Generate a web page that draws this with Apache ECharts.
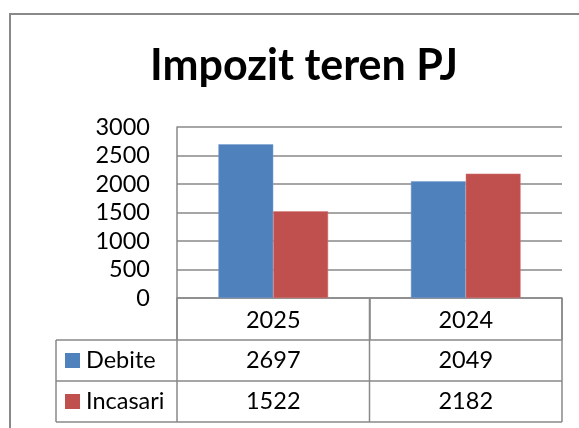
<!DOCTYPE html>
<html>
<head>
<meta charset="utf-8">
<script src="https://cdn.jsdelivr.net/npm/echarts@6/dist/echarts.min.js"></script>
<style>
    html, body { margin: 0; padding: 0; background: #fff; }
    #main { width: 579px; height: 428px; }
</style>
</head>
<body>
<div id="main"></div>
<script>
// date din grafic
var categories = ['2025', '2024'];
var seriesNames = ['Debite', 'Incasari'];
var debite = [2697, 2049];
var incasari = [1522, 2182];
var seriesColors = ['#4F81BD', '#C0504D'];

var FONT = 'Lato';
var FS = 23.5;
var lineColor = '#898989';

var chartDom = document.getElementById('main');
var myChart = echarts.init(chartDom);
var option;

option = {
    animation: false,
    title: {
        text: 'Impozit teren PJ',
        left: 299,
        top: 40,
        textAlign: 'center',
        textStyle: {
            fontFamily: FONT,
            fontWeight: 'bold',
            fontSize: 43,
            color: '#000'
        }
    },
    grid: {
        left: 177,
        right: 17,
        top: 127,
        bottom: 130,
        containLabel: false
    },
    xAxis: {
        type: 'category',
        data: categories,
        axisLine: {lineStyle: {color: lineColor, width: 1.5}},
        axisTick: {show: true, length: 42, lineStyle: {color: lineColor, width: 1.5}},
        axisLabel: {
            fontFamily: FONT,
            fontSize: FS,
            color: '#000',
            margin: 10
        }
    },
    yAxis: {
        type: 'value',
        min: 0,
        max: 3000,
        interval: 500,
        axisLine: {show: true, lineStyle: {color: lineColor, width: 1.5}},
        axisTick: {show: false},
        splitLine: {lineStyle: {color: lineColor, width: 1.5}},
        axisLabel: {
            fontFamily: FONT,
            fontSize: FS,
            color: '#000',
            margin: 27,
            formatter: function (v) { return String(v); }
        }
    },
    series: [
        {
            name: seriesNames[0],
            type: 'bar',
            data: debite,
            barGap: '0%',
            barCategoryGap: '43%',
            itemStyle: {color: seriesColors[0], borderColor: '#7a9fd0', borderWidth: 0.5}
        },
        {
            name: seriesNames[1],
            type: 'bar',
            data: incasari,
            itemStyle: {color: seriesColors[1], borderColor: '#d77a78', borderWidth: 0.5}
        }
    ]
};

option && myChart.setOption(option);

// tabel de date sub grafic
var plotLeft = 177, plotRight = 562, axisY = 298;
var rowTops = [340, 381];
var rowH = 41;
var tableLeft = 56, tableBottom = 422;
var rows = [debite, incasari];

var colCenters = categories.map(function (c) {
    return myChart.convertToPixel({xAxisIndex: 0}, c);
});
var colBounds = [plotLeft];
for (var i = 0; i < colCenters.length - 1; i++) {
    colBounds.push((colCenters[i] + colCenters[i + 1]) / 2);
}
colBounds.push(plotRight);

var lineStyle = {stroke: lineColor, lineWidth: 1.5};
var els = [];

// cadru exterior
els.push({
    type: 'rect',
    shape: {x: 10, y: 14, width: 620, height: 460},
    style: {fill: 'none', stroke: lineColor, lineWidth: 2}
});

// linii orizontale
[rowTops[0], rowTops[1], tableBottom].forEach(function (y) {
    els.push({type: 'line', shape: {x1: tableLeft, y1: y, x2: plotRight, y2: y}, style: lineStyle});
});
// linii verticale
els.push({type: 'line', shape: {x1: tableLeft, y1: rowTops[0], x2: tableLeft, y2: tableBottom}, style: lineStyle});
colBounds.forEach(function (x) {
    els.push({type: 'line', shape: {x1: x, y1: axisY, x2: x, y2: tableBottom}, style: lineStyle});
});

rows.forEach(function (vals, r) {
    var cy = rowTops[r] + rowH / 2;
    els.push({
        type: 'rect',
        shape: {x: 65, y: cy - 7.5, width: 15, height: 15},
        style: {fill: seriesColors[r]}
    });
    els.push({
        type: 'text',
        x: 86, y: cy,
        style: {
            text: seriesNames[r], fill: '#000',
            font: FS + 'px ' + FONT,
            textAlign: 'left', textVerticalAlign: 'middle'
        }
    });
    vals.forEach(function (v, c) {
        els.push({
            type: 'text',
            x: colCenters[c], y: cy,
            style: {
                text: String(v), fill: '#000',
                font: FS + 'px ' + FONT,
                textAlign: 'center', textVerticalAlign: 'middle'
            }
        });
    });
});

myChart.setOption({graphic: {elements: els}});
</script>
</body>
</html>
